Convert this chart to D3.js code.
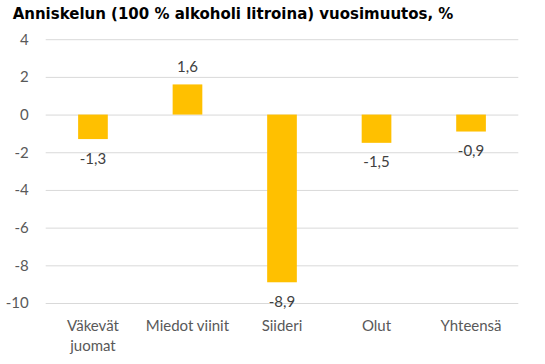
<!DOCTYPE html>
<html>
<head>
<meta charset="utf-8">
<script src="https://cdn.jsdelivr.net/npm/d3@7"></script>
<style>
  body { margin: 0; background: #fff; }
  svg { display: block; }
</style>
</head>
<body>
<div id="chart"></div>
<script>
var categories = [["Väkevät", "juomat"], ["Miedot viinit"], ["Siideri"], ["Olut"], ["Yhteensä"]]
var values = [-1.3, 1.6, -8.9, -1.5, -0.9]
var yTicks = [4, 2, 0, -2, -4, -6, -8, -10]
var title = "Anniskelun (100 % alkoholi litroina) vuosimuutos, %"

var barColor = "#FFC000"
var gridColor = "#d9d9d9"

var W = 545, H = 364
var margin = { top: 39.2, right: 26.7, bottom: 61, left: 45.7 },
  width = W - margin.left - margin.right,
  height = H - margin.top - margin.bottom;

var svg = d3.select("#chart")
  .append("svg")
  .attr("width", W)
  .attr("height", H)

// title, squeezed to the reference width
var t = svg.append("text")
  .attr("x", 12.7)
  .attr("y", 18.5)
  .attr("font-family", "DejaVu Sans, Verdana, sans-serif")
  .attr("font-weight", "bold")
  .attr("font-size", 15)
  .attr("fill", "#000")
  .text(title)
var tw = t.node().getComputedTextLength()
t.attr("font-size", 15 * 441 / tw)

var g = svg.append("g")
  .attr("transform", "translate(" + margin.left + "," + margin.top + ")")

var x = d3.scaleBand()
  .domain(d3.range(values.length))
  .range([0, width])
  .paddingInner(0.686)
  .paddingOuter(0.343)

var y = d3.scaleLinear()
  .domain([-10, 4])
  .range([height, 0])

// gridlines + tick labels
var yAxis = d3.axisLeft(y).tickValues(yTicks).tickSize(-width).tickPadding(17)
  .tickFormat(function (d) { return String(d).replace("-", "-") })
var ya = g.append("g").call(yAxis)
ya.select(".domain").remove()
ya.selectAll(".tick line").attr("stroke", gridColor).attr("stroke-width", 1)
ya.selectAll(".tick text")
  .attr("fill", "#595959")
  .attr("font-family", "Lato, sans-serif")
  .attr("font-size", 15)

// bars
g.selectAll("rect.bar")
  .data(values)
  .enter()
  .append("rect")
  .attr("class", "bar")
  .attr("x", function (d, i) { return x(i) })
  .attr("width", x.bandwidth())
  .attr("y", function (d) { return y(Math.max(0, d)) })
  .attr("height", function (d) { return Math.abs(y(d) - y(0)) })
  .attr("fill", barColor)

// value labels
g.selectAll("text.val")
  .data(values)
  .enter()
  .append("text")
  .attr("class", "val")
  .attr("x", function (d, i) { return x(i) + x.bandwidth() / 2 })
  .attr("y", function (d) { return d >= 0 ? y(d) - 12 : y(d) + 24.5 })
  .attr("text-anchor", "middle")
  .attr("font-family", "Lato, sans-serif")
  .attr("font-size", 15)
  .attr("fill", "#404040")
  .text(function (d) { return String(d).replace(".", ",") })

// category labels
var cat = g.selectAll("text.cat")
  .data(categories)
  .enter()
  .append("text")
  .attr("class", "cat")
  .attr("x", function (d, i) { return x(i) + x.bandwidth() / 2 })
  .attr("y", height + 28)
  .attr("text-anchor", "middle")
  .attr("font-family", "Lato, sans-serif")
  .attr("font-size", 15)
  .attr("fill", "#595959")
cat.each(function (d, i) {
  var el = d3.select(this)
  d.forEach(function (line, j) {
    el.append("tspan")
      .attr("x", x(i) + x.bandwidth() / 2)
      .attr("dy", j == 0 ? 0 : 20.5)
      .text(line)
  })
})
</script>
</body>
</html>
